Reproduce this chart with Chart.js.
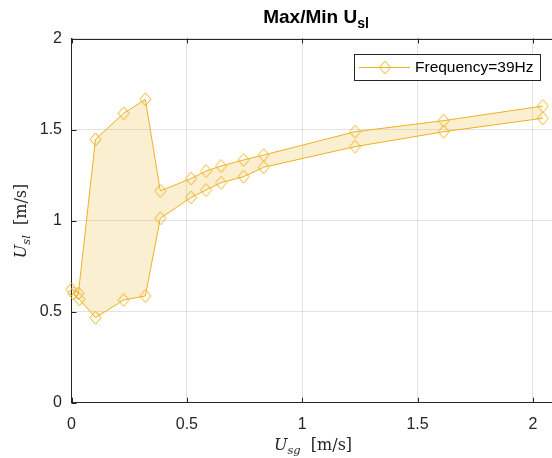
<!DOCTYPE html>
<html>
<head>
<meta charset="utf-8">
<script src="https://cdn.jsdelivr.net/npm/chart.js@4.4.1/dist/chart.umd.min.js"></script>
<style>
  html, body { margin: 0; padding: 0; background: #fff; overflow: hidden; }
  #wrap { width: 552px; height: 458px; overflow: hidden; position: relative; }
  canvas { display: block; }
</style>
</head>
<body>
<div id="wrap"><canvas id="chart" width="600" height="458" style="width:600px;height:458px"></canvas></div>
<script>
// ── Data ──────────────────────────────────────────────────────────────────
const usgMax = [0.0, 0.03, 0.104, 0.226, 0.32, 0.385, 0.518, 0.583, 0.648, 0.746, 0.833, 1.229, 1.613, 2.043];
const uslMax = [0.623, 0.601, 1.446, 1.589, 1.666, 1.163, 1.231, 1.272, 1.300, 1.333, 1.360, 1.488, 1.549, 1.629];
const usgMin = [0.008, 0.034, 0.104, 0.226, 0.32, 0.385, 0.518, 0.583, 0.648, 0.746, 0.833, 1.229, 1.613, 2.043];
const uslMin = [0.601, 0.568, 0.467, 0.564, 0.586, 1.013, 1.127, 1.168, 1.208, 1.241, 1.293, 1.406, 1.488, 1.562];

const xTicks = [0, 0.5, 1, 1.5, 2];
const yTicks = [0, 0.5, 1, 1.5, 2];

const LINE_COLOR = '#EDB120';
const FILL_COLOR = 'rgba(237,177,32,0.2)';
const AXIS_COLOR = '#262626';
const SANS  = '"Liberation Sans", Arial, sans-serif';
const SERIF = '"DejaVu Serif", "Liberation Serif", serif';

// hollow diamond marker, a little taller than wide (MATLAB style)
const diamond = document.createElement('canvas');
diamond.width = 13; diamond.height = 15;
(() => {
    const d = diamond.getContext('2d');
    d.strokeStyle = LINE_COLOR;
    d.lineWidth = 1;
    d.beginPath();
    d.moveTo(6.5, 1); d.lineTo(12, 7.5); d.lineTo(6.5, 14); d.lineTo(1, 7.5);
    d.closePath();
    d.stroke();
})();

const toPoints = (xs, ys) => xs.map((x, i) => ({ x, y: ys[i] }));

// draws a run of text pieces (for subscripts), centred on cx
function drawParts(ctx, parts, cx, baseY) {
    let total = 0;
    parts.forEach(p => { ctx.font = p.font; total += ctx.measureText(p.t).width; });
    let x = cx - total / 2;
    ctx.textAlign = 'left';
    ctx.textBaseline = 'alphabetic';
    parts.forEach(p => {
        ctx.font = p.font;
        ctx.fillText(p.t, x, baseY + (p.dy || 0));
        x += ctx.measureText(p.t).width;
    });
}

// ── Decorations: box, inward ticks, titles, legend ────────────────────────
const matlabAxes = {
    id: 'matlabAxes',
    afterDraw(chart) {
        const { ctx, chartArea: a, scales } = chart;
        ctx.save();
        ctx.strokeStyle = AXIS_COLOR;
        ctx.lineWidth = 1;
        ctx.beginPath();
        ctx.moveTo(a.left, Math.round(a.top) + 0.5);
        ctx.lineTo(a.right, Math.round(a.top) + 0.5);
        xTicks.forEach(v => {
            const px = Math.round(scales.x.getPixelForValue(v)) + 0.5;
            ctx.moveTo(px, a.bottom); ctx.lineTo(px, a.bottom - 5);
            ctx.moveTo(px, a.top);    ctx.lineTo(px, a.top + 5);
        });
        yTicks.forEach(v => {
            const py = Math.round(scales.y.getPixelForValue(v)) + 0.5;
            ctx.moveTo(a.left, py); ctx.lineTo(a.left + 5, py);
        });
        ctx.stroke();

        ctx.fillStyle = '#000';
        // title
        drawParts(ctx, [
            { t: 'Max/Min U', font: 'bold 19px ' + SANS },
            { t: 'sl', font: 'bold 14px ' + SANS, dy: 5 }
        ], 316, 22.5);

        ctx.fillStyle = AXIS_COLOR;
        // x title
        drawParts(ctx, [
            { t: 'U', font: 'italic 16px ' + SERIF },
            { t: 'sg', font: 'italic 11.5px ' + SERIF, dy: 4 },
            { t: '  [m/s]', font: '16px ' + SERIF }
        ], 313, 450);
        // y title
        ctx.save();
        ctx.translate(26, 221);
        ctx.rotate(-Math.PI / 2);
        drawParts(ctx, [
            { t: 'U', font: 'italic 16px ' + SERIF },
            { t: 'sl', font: 'italic 11.5px ' + SERIF, dy: 4 },
            { t: '  [m/s]', font: '16px ' + SERIF }
        ], 0, 0);
        ctx.restore();

        // legend
        ctx.fillStyle = '#fff';
        ctx.fillRect(354, 54, 186, 26);
        ctx.strokeStyle = AXIS_COLOR;
        ctx.lineWidth = 1;
        ctx.strokeRect(354.5, 54.5, 186, 26);
        ctx.strokeStyle = LINE_COLOR;
        ctx.beginPath();
        ctx.moveTo(359, 67.5); ctx.lineTo(410, 67.5);
        ctx.stroke();
        ctx.drawImage(diamond, 385 - diamond.width / 2, 67.5 - diamond.height / 2);
        ctx.fillStyle = '#000';
        ctx.font = '15.5px ' + SANS;
        ctx.textAlign = 'left';
        ctx.textBaseline = 'middle';
        ctx.fillText('Frequency=39Hz', 415, 68);
        ctx.restore();
    }
};

const lineStyle = {
    borderColor: LINE_COLOR,
    borderWidth: 1,
    pointStyle: diamond,
    pointBorderColor: LINE_COLOR,
    pointBackgroundColor: 'transparent',
    tension: 0,
    clip: false
};

new Chart(document.getElementById('chart'), {
    type: 'line',
    data: {
        datasets: [
            { ...lineStyle, label: 'max', data: toPoints(usgMax, uslMax), fill: '+1', backgroundColor: FILL_COLOR },
            { ...lineStyle, label: 'min', data: toPoints(usgMin, uslMin), fill: false }
        ]
    },
    options: {
        responsive: false,
        animation: false,
        devicePixelRatio: 1,
        layout: { padding: { left: 0, top: 38.5, right: 44, bottom: 0 } },
        plugins: {
            legend: { display: false },
            title: { display: false },
            tooltip: { enabled: false }
        },
        scales: {
            x: {
                type: 'linear',
                min: 0, max: 2.1,
                afterBuildTicks: s => { s.ticks = xTicks.map(v => ({ value: v })); },
                afterFit: s => { s.height = 458 - 402.7; },
                grid: { color: 'rgba(38,38,38,0.13)', drawTicks: false },
                border: { color: AXIS_COLOR, width: 1 },
                ticks: { color: AXIS_COLOR, font: { family: SANS, size: 16 }, padding: 12, maxRotation: 0,
                         callback: v => String(v) }
            },
            y: {
                type: 'linear',
                min: 0, max: 2,
                afterBuildTicks: s => { s.ticks = yTicks.map(v => ({ value: v })); },
                afterFit: s => { s.width = 71.5; },
                grid: { color: 'rgba(38,38,38,0.13)', drawTicks: false },
                border: { color: AXIS_COLOR, width: 1 },
                ticks: { color: AXIS_COLOR, font: { family: SANS, size: 16 }, padding: 9.5,
                         callback: v => String(v) }
            }
        }
    },
    plugins: [matlabAxes]
});
</script>
</body>
</html>
